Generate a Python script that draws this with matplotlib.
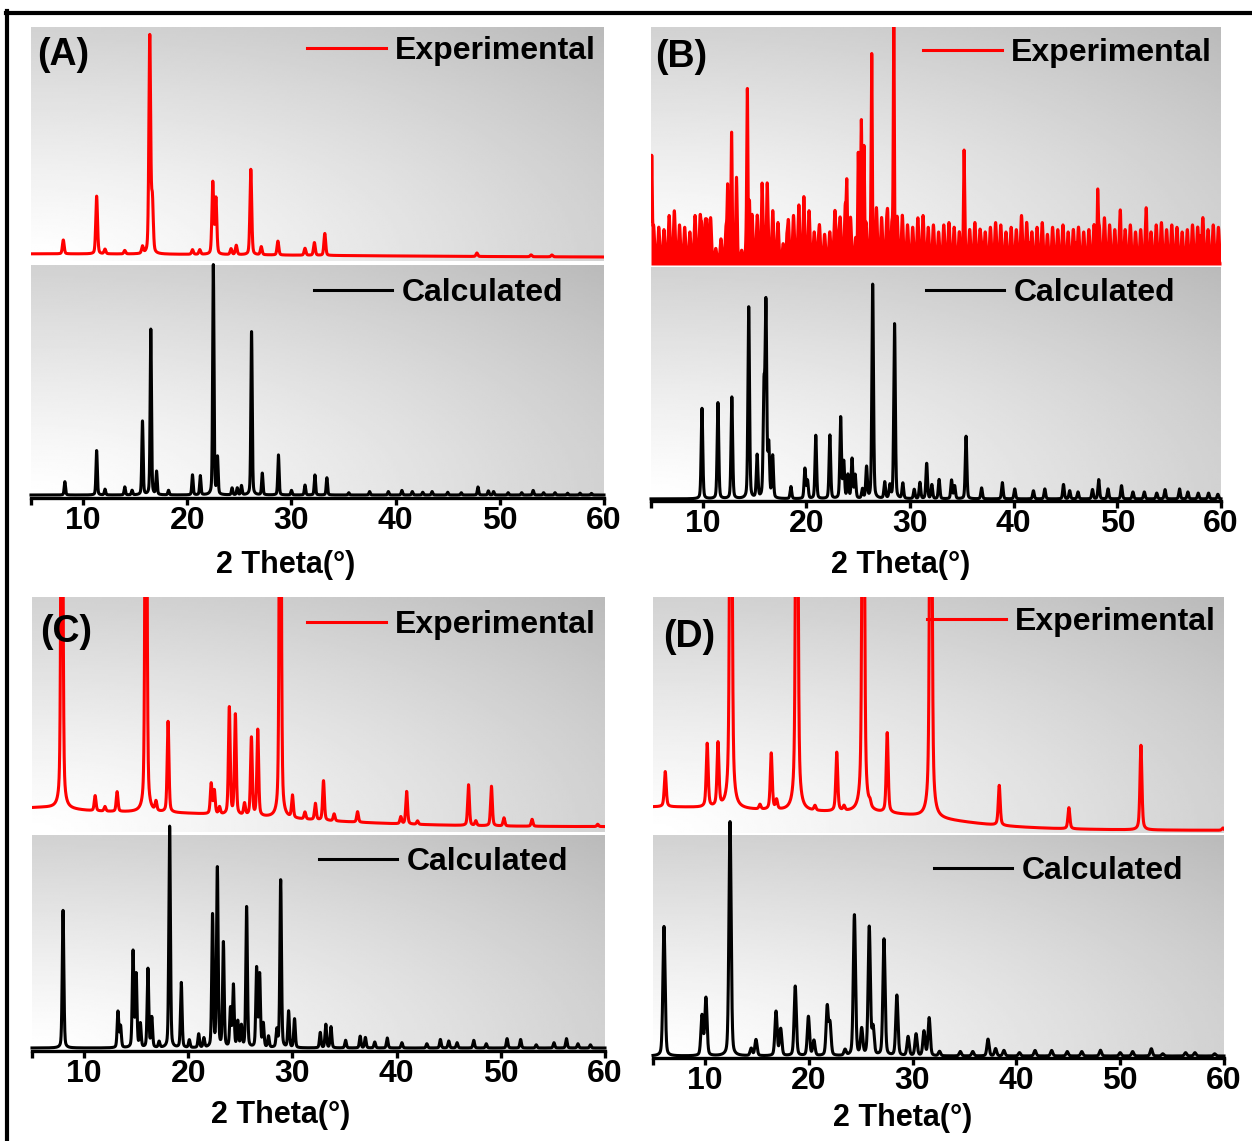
import numpy as np
import matplotlib.pyplot as plt
from matplotlib.lines import Line2D

plt.rcParams["font.family"] = ["Liberation Sans", "DejaVu Sans"]
plt.rcParams["font.weight"] = "bold"

# ---------------- data: peak positions (2 theta, deg) and heights (% of panel) ----------------
# (A)
a_exp_pos = [8.1, 11.3, 12.1, 14.0, 15.7, 16.4, 16.65, 20.5, 21.2, 22.45, 22.75, 24.2, 24.7,
             26.1, 27.1, 28.7, 31.3, 32.2, 33.2, 47.8, 53.0, 55.0]
a_exp_int = [6, 25, 2, 1.5, 3, 94, 22, 2, 2, 31, 24, 2.5, 4, 37, 3.5, 6, 3, 5.5, 9.5, 1.5, 0.8, 0.8]
a_exp_bg = [(5, 1.5, 60), (30, 0.3, 500)]

a_cal_pos = [8.25, 11.3, 12.1, 14.0, 14.7, 15.7, 16.5, 17.05, 18.2, 20.5, 21.25, 22.5, 22.9,
             24.3, 24.8, 25.2, 26.17, 27.2, 28.75, 30.0, 31.3, 32.25, 33.4, 35.5, 37.5, 39.3,
             40.6, 41.6, 42.6, 43.5, 45.0, 46.3, 47.9, 48.9, 49.4, 50.8, 52.1, 53.2, 54.2,
             55.3, 56.5, 57.7, 58.8]
a_cal_int = [5.8, 19.3, 2.5, 3.5, 2, 32, 72, 10, 2, 8.7, 8.3, 100, 16, 3, 3, 4, 71, 9.4, 17.4,
             2, 4.3, 8.7, 7.5, 1, 1.5, 1.5, 2, 1.5, 1.2, 1.5, 1.2, 1, 3.5, 1.8, 1.5, 1, 1, 2,
             1, 1, 0.8, 0.8, 0.7]

# (B)
b_exp_pos = [5.07, 9.9, 10.4, 12.4, 12.78, 13.25, 14.3, 14.5, 15.7, 16.0, 16.2, 18.1, 19.3,
             19.75, 21.1, 22.55, 23.1, 23.9, 25.0, 25.3, 25.55, 26.3, 27.85, 28.43, 35.2, 36.9,
             41.5, 46.0, 48.1, 50.3, 52.8, 58.0]
b_exp_int = [44, 12, 14, 30, 42, 18, 60, 25, 14, 14, 16, 8, 6, 10, 4, 6, 8, 30, 46, 48, 48,
             76, 12, 100, 36, 6, 8, 8, 28, 9, 10, 11]
# noise level sampled every 0.5 deg from 5.25 to 59.75
b_exp_noise = [15, 15, 14, 20, 22, 16, 15, 13, 20, 20, 18, 19, 6, 10, 15, 14, 18, 5, 16, 20,
               20, 22, 20, 22, 17, 8, 18, 20, 20, 18, 22, 13, 16, 12, 13, 22, 19, 24, 19, 10,
               14, 16, 15, 23, 19, 18, 16, 19, 20, 16, 15, 19, 20, 15, 16, 13, 16, 17, 15, 13,
               14, 14, 17, 14, 13, 15, 17, 16, 13, 15, 14, 20, 17, 13, 15, 17, 12, 15, 14, 16,
               13, 14, 15, 13, 14, 16, 15, 19, 16, 14, 15, 14, 16, 13, 14, 15, 13, 16, 17, 14,
               16, 15, 13, 14, 16, 15, 19, 14, 16, 15]

b_cal_pos = [9.92, 11.46, 12.8, 14.43, 15.24, 15.9, 16.09, 16.36, 16.74, 18.5, 19.85, 20.1,
             20.9, 22.26, 23.3, 23.6, 24.0, 24.4, 24.7, 25.4, 25.8, 26.39, 27.55, 28.05, 28.5,
             29.3, 30.4, 30.95, 31.6, 32.1, 32.8, 34.0, 34.3, 35.4, 36.9, 38.9, 40.1, 41.9,
             43.0, 44.8, 45.4, 46.2, 47.6, 48.2, 49.1, 50.4, 51.5, 52.6, 53.8, 54.6, 56.0,
             56.8, 57.8, 58.8, 59.7]
b_cal_int = [39, 41.4, 43.8, 82.6, 18.4, 45, 82, 22, 18, 5.2, 12.9, 7.6, 27.3, 27.4, 34.9,
             15.5, 10, 17, 10, 4, 13.4, 92.4, 7, 5.5, 75.4, 6.6, 4, 7, 15.2, 6, 8.3, 8, 5.5,
             27, 4.7, 7, 4.3, 3.5, 4.3, 6.2, 3.5, 3, 4, 8.3, 4.3, 5.7, 3, 3, 2.5, 4, 4.3, 3,
             2.5, 2.5, 2]

# (C)
c_exp_pos = [7.87, 11.06, 12.0, 13.17, 15.94, 16.9, 18.06, 22.2, 22.5, 23.0, 23.94, 24.52,
             25.4, 26.06, 26.67, 28.83, 30.0, 31.2, 32.2, 32.98, 34.0, 36.25, 40.4, 40.96,
             42.0, 46.9, 47.6, 49.1, 50.3, 53.0, 59.3]
c_exp_int = [250, 6.5, 2, 8.5, 250, 4, 39, 13, 10, 3, 46, 43, 5, 33.5, 37, 250, 9.5, 3, 7,
             17, 3, 4.5, 3, 14, 1.5, 17.5, 2, 17, 3.5, 3, 1]
c_exp_bg = [(14, 6.2, 34), (5, 3, 8), (30, 1.4, 500)]

c_cal_pos = [7.98, 13.25, 13.5, 14.7, 15.0, 15.4, 16.13, 16.5, 17.2, 18.21, 19.33, 20.1, 21.0,
             21.5, 22.33, 22.79, 23.37, 24.05, 24.33, 24.75, 25.1, 25.6, 26.56, 26.85, 27.2,
             27.7, 28.5, 28.87, 29.63, 30.2, 32.67, 33.2, 33.7, 35.1, 36.5, 37.0, 37.9, 39.1,
             40.5, 42.9, 44.2, 45.0, 45.8, 47.4, 48.6, 50.6, 51.9, 53.4, 55.1, 56.3, 57.4,
             58.6]
c_cal_int = [64.6, 16.9, 10, 45, 34, 11, 37, 14, 2.8, 104, 30.5, 3.6, 6.4, 4.4, 62, 84, 49,
             18, 29, 12, 10, 66, 37, 34, 11, 5.2, 8, 78.7, 17, 13.5, 7.2, 11, 9.9, 3.6, 5.5,
             4.9, 2.8, 4.7, 2.5, 2, 4, 3.3, 2.5, 3.6, 2, 4.4, 4, 1.5, 2.5, 4.4, 2, 1.5]

# (D)
d_exp_pos = [6.18, 10.22, 11.26, 12.5, 15.3, 16.39, 16.9, 18.85, 20.6, 22.7, 23.4, 25.25,
             25.9, 27.56, 31.76, 38.35, 45.06, 52.0, 59.9]
d_exp_int = [15, 27, 27, 300, 2, 24, 4, 300, 2, 25, 2, 300, 2, 34, 300, 17, 9, 36, 1]
d_exp_bg = [(5, 10, 40), (28, 3, 14), (30, 0.7, 500)]

d_cal_pos = [6.06, 9.72, 10.1, 12.42, 14.46, 14.92, 16.85, 17.3, 18.7, 19.97, 20.5, 21.78,
             22.05, 23.5, 24.4, 25.1, 25.83, 26.2, 27.25, 28.49, 29.57, 30.34, 31.1, 31.6,
             32.6, 34.6, 35.8, 37.27, 38.0, 38.8, 40.3, 41.8, 43.4, 44.9, 46.3, 48.1, 50.0,
             51.2, 53.0, 54.1, 56.3, 57.2, 59.1]
d_cal_int = [58.6, 18, 26, 106, 3.3, 7.3, 20, 12, 31.5, 17.7, 6.8, 22, 14, 2.6, 63.6, 11.7,
             58, 12, 52.7, 27.3, 8.6, 9.8, 11, 17.1, 2, 2, 2, 7.6, 3.3, 2.5, 1.5, 2.5, 2.5, 2,
             2, 2.6, 1.5, 2, 3.3, 1, 1.5, 1.5, 1]

W, H = 1252, 1141
x = np.linspace(5, 60, 5501)


def pattern(pos, inten, width, eta):
    y = np.zeros_like(x)
    for p, h in zip(pos, inten):
        d = (x - p) / (width / 2)
        y += h * (eta / (1 + d ** 2) + (1 - eta) * np.exp(-np.log(2) * d ** 2))
    return y


def background(parts):
    y = np.zeros_like(x)
    for p, h, w in parts:
        y += h * np.exp(-4 * np.log(2) * ((x - p) / w) ** 2)
    return y


# gradient fill like the original (white bottom-left -> grey top-right)
gu, gv = np.meshgrid(np.linspace(0, 1, 200), np.linspace(0, 1, 120))
grad = 1 - 0.27 * (np.sqrt(gu ** 2 + gv ** 2) / np.sqrt(2)) ** 1.2


def px_axes(left, right, top, bottom, z):
    rect = [left / W, 1 - bottom / H, (right - left) / W, (bottom - top) / H]
    bg = fig.add_axes(rect, zorder=z)
    bg.imshow(grad, extent=(0, 1, 0, 1), origin="lower", aspect="auto",
              cmap="gray", vmin=0, vmax=1, interpolation="bilinear")
    bg.axis("off")
    ax = fig.add_axes(rect, zorder=z + 1)
    ax.patch.set_visible(False)
    ax.set_xlim(5, 60)
    return ax


fig = plt.figure(figsize=(W / 100, H / 100), dpi=100)

panels = [
    dict(lab="(A)", lab_xy=(37, 55), lr=(31, 604),
         exp=(27, 261, -1.3), cal=(265, 498, -1.3),
         ey=pattern(a_exp_pos, a_exp_int, 0.2, 0.3) + background(a_exp_bg),
         cy=pattern(a_cal_pos, a_cal_int, 0.15, 0.3),
         leg_e=(596, 51), leg_c=(563, 293), xl=(286, 565), fill=False),
    dict(lab="(B)", lab_xy=(655, 57), lr=(651, 1221),
         exp=(27, 265, -1.0), cal=(267, 501, -0.9),
         ey=pattern(b_exp_pos, b_exp_int, 0.12, 0.2)
         + pattern(np.arange(5.25, 60, 0.5), b_exp_noise, 0.2, 0.0),
         cy=pattern(b_cal_pos, b_cal_int, 0.18, 0.3),
         leg_e=(1212, 53), leg_c=(1175, 293), xl=(901, 565), fill=True),
    dict(lab="(C)", lab_xy=(40, 632), lr=(32, 605),
         exp=(597, 832, -0.9), cal=(835, 1051, -1.4),
         ey=pattern(c_exp_pos, c_exp_int, 0.2, 0.4) + background(c_exp_bg),
         cy=pattern(c_cal_pos, c_cal_int, 0.18, 0.3),
         leg_e=(596, 625), leg_c=(568, 862), xl=(281, 1115), fill=False),
    dict(lab="(D)", lab_xy=(663, 637), lr=(653, 1224),
         exp=(597, 833, -0.4), cal=(835, 1058, -0.9),
         ey=pattern(d_exp_pos, d_exp_int, 0.22, 0.5) + background(d_exp_bg),
         cy=pattern(d_cal_pos, d_cal_int, 0.25, 0.3),
         leg_e=(1216, 622), leg_c=(1183, 871), xl=(903, 1118), fill=False),
]

lw = 2.2
for pn in panels:
    left, right = pn["lr"]
    et, eb, ey0 = pn["exp"]
    ct, cb, cy0 = pn["cal"]

    ax_e = px_axes(left, right, et, eb, 1)
    ax_e.set_ylim(ey0, 100)
    ax_e.plot(x, pn["ey"], color="#ff0000", lw=lw)
    if pn["fill"]:
        # the noisy pattern reads as a solid red band near the baseline
        ax_e.fill_between(x, ey0, pn["ey"], color="#ff0000", lw=0)
    ax_e.axis("off")

    ax_c = px_axes(left, right, ct, cb, 3)
    ax_c.set_ylim(cy0, 100)
    ax_c.plot(x, pn["cy"], color="black", lw=lw, clip_on=False)
    for s in ["top", "left", "right"]:
        ax_c.spines[s].set_visible(False)
    ax_c.spines["bottom"].set_linewidth(2.4)
    ax_c.set_yticks([])
    ax_c.set_xticks([5, 10, 20, 30, 40, 50, 60])
    ax_c.set_xticklabels(["", "10", "20", "30", "40", "50", "60"])
    ax_c.tick_params(axis="x", direction="out", length=5, width=2.4, pad=1,
                     labelsize=23)
    for t in ax_c.get_xticklabels():
        t.set_fontweight("bold")
    ax_c.set_xlabel("2 Theta(\u00b0)", fontsize=22, fontweight="bold")
    xl_x, xl_y = pn["xl"]
    ax_c.xaxis.set_label_coords((xl_x - left) / (right - left), -(xl_y - cb) / (cb - ct))
    ax_c.xaxis.label.set_verticalalignment("center")

    for ax, key, col, text in [(ax_e, "leg_e", "#ff0000", "Experimental"),
                               (ax_c, "leg_c", "black", "Calculated")]:
        rx, ry = pn[key]
        ax.legend([Line2D([], [], color=col, lw=lw)], [text], loc="center right",
                  bbox_to_anchor=(rx / W, 1 - ry / H), bbox_transform=fig.transFigure,
                  frameon=False, prop={"size": 23, "weight": "bold"},
                  handlelength=2.45, handletextpad=0.3, borderpad=0, borderaxespad=0)

    lx, ly = pn["lab_xy"]
    fig.text(lx / W, 1 - ly / H, pn["lab"], ha="left", va="center",
             fontsize=27, fontweight="bold", zorder=10)

# outer frame (cut at right and bottom as in the original)
fig.add_artist(Line2D([6 / W, 1], [1 - 13 / H, 1 - 13 / H], color="black", lw=3,
                      transform=fig.transFigure))
fig.add_artist(Line2D([7 / W, 7 / W], [0, 1 - 11 / H], color="black", lw=3,
                      transform=fig.transFigure))

fig.savefig("out.png", dpi=100)
